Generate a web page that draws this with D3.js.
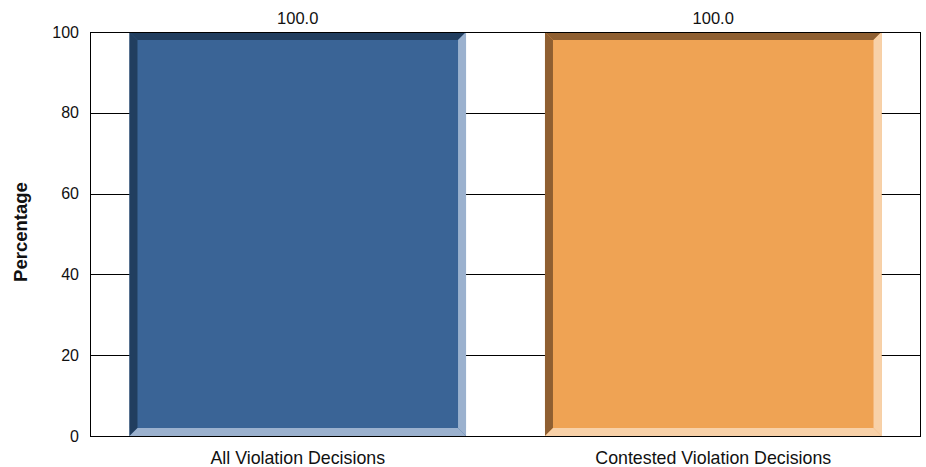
<!DOCTYPE html>
<html><head><meta charset="utf-8">
<script src="https://cdn.jsdelivr.net/npm/d3@7"></script>
<style>body{margin:0;background:#fff}svg{display:block;font-family:Arial,"Liberation Sans",sans-serif}</style>
</head><body><svg id="c" width="926" height="467"></svg>
<script>
const categories = ["All Violation Decisions", "Contested Violation Decisions"];
const values = [100.0, 100.0];
const yTicks = [0, 20, 40, 60, 80, 100];
const faceColors = ["#3A6496", "#EFA354"];
const darkColors = ["#213E5F", "#8F5F31"];
const lightColors = ["#9BB1CE", "#F8D1A8"];

const FONT = "Arial, 'Liberation Sans', sans-serif";
const svg = d3.select("#c");
const m = {left: 90, top: 32, right: 5, bottom: 31};
const W = 926, H = 467;
const x = d3.scaleBand().domain(categories).range([m.left, W - m.right]).paddingInner(0.19).paddingOuter(0.095);
const y = d3.scaleLinear().domain([0, 100]).range([H - m.bottom, m.top]);

// gridlines
svg.append("g").selectAll("line").data(yTicks.filter(t => t > 0 && t < 100)).join("line")
  .attr("x1", m.left).attr("x2", W - m.right)
  .attr("y1", d => Math.round(y(d)) + 0.5).attr("y2", d => Math.round(y(d)) + 0.5)
  .attr("stroke", "#000").attr("stroke-width", 1);

// bars with bevel
const b = 8;
const g = svg.append("g");
categories.forEach((c, i) => {
  const x0 = x(c), x1 = x(c) + x.bandwidth();
  const y0 = y(values[i]), y1 = y(0);
  g.append("rect").attr("x", x0).attr("y", y0).attr("width", x1 - x0).attr("height", y1 - y0).attr("fill", faceColors[i]);
  g.append("polygon").attr("points", [[x0, y0], [x1, y0], [x1 - b, y0 + b], [x0 + b, y0 + b]].join(" ")).attr("fill", darkColors[i]);
  g.append("polygon").attr("points", [[x0, y0], [x0 + b, y0 + b], [x0 + b, y1 - b], [x0, y1]].join(" ")).attr("fill", darkColors[i]);
  g.append("polygon").attr("points", [[x1, y0], [x1, y1], [x1 - b, y1 - b], [x1 - b, y0 + b]].join(" ")).attr("fill", lightColors[i]);
  g.append("polygon").attr("points", [[x0, y1], [x1, y1], [x1 - b, y1 - b], [x0 + b, y1 - b]].join(" ")).attr("fill", lightColors[i]);
  svg.append("text").attr("x", (x0 + x1) / 2).attr("y", y0 - 8).attr("text-anchor", "middle")
    .attr("font-size", 16.5).attr("font-family", FONT).attr("fill", "#111").text(values[i].toFixed(1));
});

// frame
svg.append("rect").attr("x", m.left + 0.5).attr("y", m.top + 0.5)
  .attr("width", W - m.right - m.left - 1).attr("height", H - m.bottom - m.top)
  .attr("fill", "none").attr("stroke", "#000").attr("stroke-width", 1).attr("shape-rendering", "crispEdges");

// y axis labels
const yAxis = d3.axisLeft(y).tickValues(yTicks).tickSize(0).tickPadding(11).tickFormat(d3.format("d"));
const ya = svg.append("g").attr("transform", `translate(${m.left},0)`).call(yAxis);
ya.select(".domain").remove();
ya.selectAll("text").attr("font-size", 16).attr("font-family", FONT).attr("fill", "#111");

// x axis labels
const xAxis = d3.axisBottom(x).tickSize(0);
const xa = svg.append("g").attr("transform", `translate(0,${H - m.bottom})`).call(xAxis);
xa.select(".domain").remove();
xa.selectAll("text").attr("y", 28).attr("dy", 0).attr("font-size", 17.8).attr("font-family", FONT).attr("fill", "#111");

// y title
svg.append("text").attr("transform", "translate(27,232) rotate(-90)").attr("text-anchor", "middle")
  .attr("font-size", 18.5).attr("font-weight", "bold").attr("font-family", FONT).attr("fill", "#111").text("Percentage");
</script></body></html>
